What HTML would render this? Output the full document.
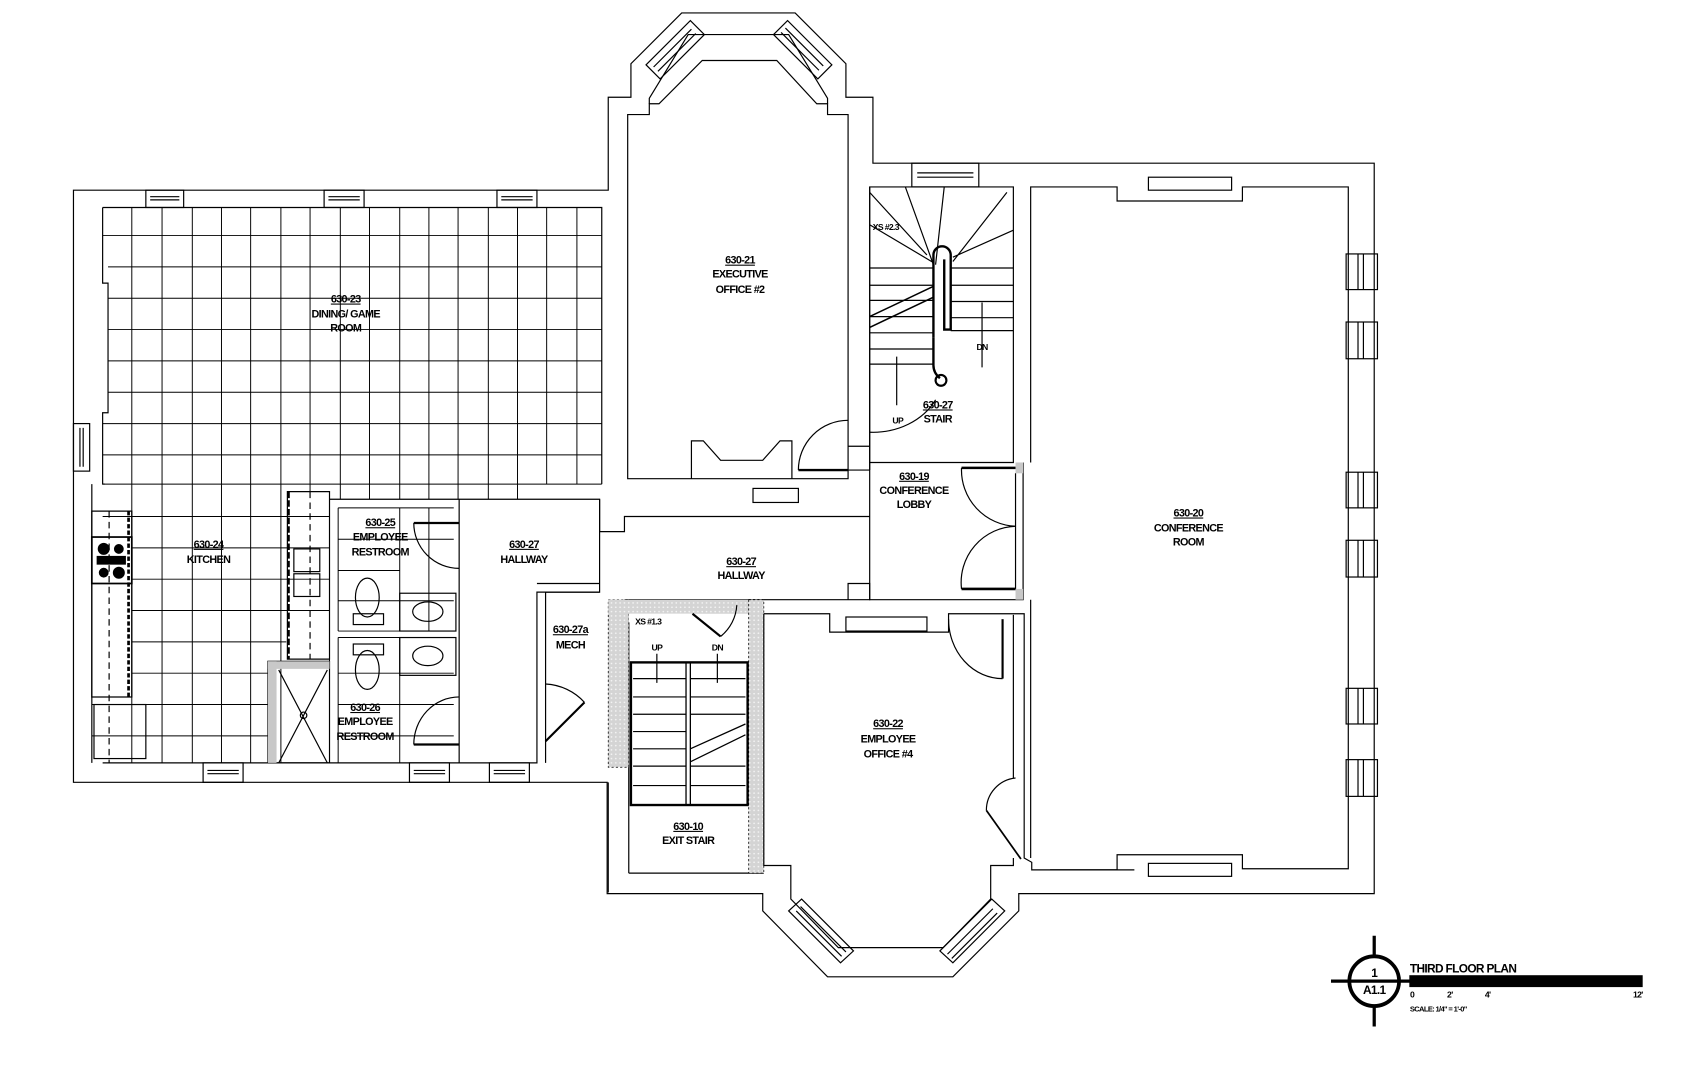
<!DOCTYPE html>
<html><head><meta charset="utf-8"><style>
html,body{margin:0;padding:0;background:#fff;}
svg{display:block;}
text{font-family:"Liberation Sans",sans-serif;font-weight:bold;font-size:10px;text-anchor:middle;fill:#000;letter-spacing:-0.6px;}
</style></head><body>
<svg width="1694" height="1073" viewBox="0 0 1568 993" preserveAspectRatio="none" xmlns="http://www.w3.org/2000/svg">
<defs>
<pattern id="hatch" width="4" height="4" patternUnits="userSpaceOnUse"><rect width="4" height="4" fill="#d4d4d4"/><circle cx="2" cy="2" r="0.8" fill="#f4f4f4"/></pattern>
</defs>
<g fill="none" stroke="#000" stroke-width="1.1">
<!-- Outer wall -->
<path d="M68,176 H563 V90 H584 V59 L631,12 H736 L783,59 V90 H808 V151 H1272 V827 H943 V843 L882,904 H766 L706,843 V827 H562 V724 H68 Z"/>
<!-- exec office inner -->
<path d="M581,443 V106 H601 V96 H610 L650,56 H719 L756,96 H766 V106 H785 V443 Z"/>
<path d="M601,96 V91 L637,32 H730 L766,91 V96"/>
<!-- exec fireplace -->
<path d="M640,443 V408 H651 L667,426 H706 L722,408 H733 V443"/>
<rect x="697" y="452" width="42" height="13"/>
<!-- Dining inner -->
<path d="M95,192 H557 V448"/>
<path d="M95,192 V262 H100 V382 H95 V448 H97"/>
<!-- grid -->
<g stroke-width="0.9">
<path d="M95,218 H557 M100,247 H557 M100,276 H557 M100,305 H557 M100,334 H557 M100,363 H557 M95,392 H557 M95,421 H557 M95,448 H557 M95,478 H305 M122,507 H305 M122,536 H305 M122,565 H305 M122,594 H265 M122,623 H248 M85,652 H248 M85,681 H248"/>
<path d="M122,192 V706 M150,192 V706 M178,192 V706 M205,192 V706 M232,192 V706 M260,192 V706 M287,192 V455 M315,192 V462 M342,192 V462 M370,192 V462 M397,192 V462 M424,192 V462 M452,192 V462 M479,192 V462 M506,192 V448 M534,192 V448"/>
<path d="M305,462 V706 M313,470 H420 M313,470 V584 M370,470 V584 M397,470 V584 M313,499 H420 M313,528 H370 M313,556 H420 M313,584 H420 M313,590 H420 M313,590 V706 M370,590 V706 M313,623 H420 M313,652 H420 M313,681 H420"/>
</g>
<!-- Left wing inner bottom/ right -->
<path d="M95,706 H497 V548 H555 V462 H305"/>
<path d="M85,706 V448"/>
<path d="M425,462 V706"/>
<!-- Windows left wing top -->
<rect x="135" y="176" width="35" height="16"/><path d="M139,182 H166 M139,185 H166"/>
<rect x="300" y="176" width="37" height="16"/><path d="M304,182 H333 M304,185 H333"/>
<rect x="460" y="176" width="37" height="16"/><path d="M464,182 H493 M464,185 H493"/>
<rect x="68" y="392" width="15" height="44"/><path d="M74,396 V432 M77,396 V432"/>
<rect x="188" y="706" width="37" height="18"/><path d="M192,713 H221 M192,716 H221"/>
<rect x="379" y="706" width="37" height="18"/><path d="M383,713 H412 M383,716 H412"/>
<rect x="453" y="706" width="37" height="18"/><path d="M457,713 H486 M457,716 H486"/>
<!-- kitchen counters -->
<path d="M85,473 H122 V645 H85 Z" stroke-width="1.2"/>
<rect x="85" y="497" width="37" height="43" stroke-width="1.6"/>
<circle cx="96" cy="508" r="5" fill="#000"/><circle cx="110" cy="508" r="4" fill="#000"/><circle cx="96" cy="530" r="4" fill="#000"/><circle cx="110" cy="530" r="5" fill="#000"/>
<rect x="90" y="515" width="26" height="7" fill="#000"/>
<path d="M119,473 V645" stroke-width="2.5" stroke-dasharray="4,2"/>
<path d="M101,473 V706" stroke-dasharray="6,4"/>
<rect x="87" y="652" width="48" height="50"/>
<path d="M266,455 H305 V610 H266 Z"/>
<path d="M267,455 V610" stroke-width="2.5" stroke-dasharray="6,2"/>
<path d="M287,455 V610" stroke-dasharray="6,4"/>
<rect x="272" y="508" width="24" height="21"/><rect x="272" y="531" width="24" height="21"/>
<!-- shower -->
<rect x="248" y="612" width="57" height="94"/>
<rect x="248" y="612" width="8" height="94" fill="#c8c8c8" stroke="none"/>
<rect x="248" y="612" width="57" height="7" fill="#c8c8c8" stroke="none"/>
<path d="M258,620 L303,706 M303,620 L258,706"/>
<circle cx="281" cy="662" r="3"/>
<!-- restroom fixtures -->
<ellipse cx="340" cy="553" rx="11" ry="18"/><rect x="327" y="568" width="28" height="10"/>
<ellipse cx="340" cy="620" rx="11" ry="18"/><rect x="327" y="596" width="28" height="10"/>
<rect x="370" y="549" width="52" height="35"/><ellipse cx="396" cy="566" rx="14" ry="9"/>
<rect x="370" y="590" width="52" height="35"/><ellipse cx="396" cy="607" rx="14" ry="9"/>
<path d="M383,484 H425" stroke-width="2"/><path d="M383,484 A42,42 0 0 0 425,526"/>
<path d="M383,689 H425" stroke-width="2"/><path d="M383,689 A42,44 0 0 1 425,645"/>
<!-- hallway walls -->
<path d="M555,462 V492 H578 V478 H805"/>
<path d="M505,548 H555 M505,548 V706 M497,540 H555"/>
<path d="M578,555 H805 V540 H785 V555"/>
<!-- mech door -->
<path d="M505,686 L541,650" stroke-width="2"/><path d="M505,633 A52,52 0 0 1 541,650"/>
<!-- exit stair -->
<path d="M563,724 V826 M582,808 H707 M582,568 V808"/>
<rect x="563" y="555" width="19" height="155" fill="url(#hatch)" stroke-dasharray="2,2" stroke-width="0.7"/>
<rect x="563" y="555" width="144" height="13" fill="url(#hatch)" stroke="none"/>
<rect x="693" y="555" width="14" height="253" fill="url(#hatch)" stroke-dasharray="2,2" stroke-width="0.7"/>
<rect x="582" y="568" width="58" height="8" fill="#fff" stroke="none"/>
<path d="M641,568 L667,589" stroke-width="2"/><path d="M667,589 A40,40 0 0 0 682,560"/>
<rect x="584" y="613" width="108" height="132" stroke-width="2.2"/>
<path d="M635,613 V745 M639,613 V745" stroke-width="1.2"/>
<path d="M586,628 H635 M586,645 H635 M586,661 H635 M586,677 H635 M586,693 H635 M586,709 H635 M586,727 H635 M639,628 H690 M639,645 H690 M639,661 H690 M639,677 H639 M639,709 H690 M639,727 H690"/>
<path d="M639,693 L690,670 M639,705 L690,680" stroke-width="1.2"/>
<path d="M608,605 V632 M664,605 V632"/>
<!-- employee office 630-22 -->
<path d="M707,568 H768 V585 H878 V568 H948 V794 L955,798 V805 L972,805 H1050"/>
<path d="M707,568 V801 H732 V832 L776,877 H873 L917,832 V801 H938 V794"/>
<rect x="783" y="571" width="75" height="13"/>
<path d="M928,573 V628" stroke-width="2"/><path d="M878,573 A50,55 0 0 0 928,628"/>
<path d="M913,750 L945,795" stroke-width="1.6"/><path d="M913,750 A30,30 0 0 1 940,720"/>
<path d="M938,569 V720"/>
<!-- bottom bay windows -->
<path d="M730,843 L778,891 L790,880 L742,832 Z"/><path d="M737,843 L779,885 M741,839 L783,881"/>
<path d="M870,880 L882,891 L930,843 L918,832 Z"/><path d="M877,883 L919,841 M881,887 L923,845"/>
<!-- top bay windows -->
<path d="M598,60 L639,19 L652,32 L611,73 Z"/><path d="M605,62 L640,27 M609,66 L644,31"/>
<path d="M716,32 L729,19 L770,60 L757,73 Z"/><path d="M723,30 L758,65 M727,26 L762,61"/>
<!-- Stair 630-27 -->
<rect x="844" y="151" width="62" height="22"/><path d="M849,160 H901 M849,164 H901"/>
<path d="M805,173 H938 V428 H805 Z"/>
<path d="M805,428 V555 H947 V428"/>
<path d="M805,173 V435" />
<path d="M805,178 L858,236 M838,173 L864,245 M874,173 L866,245 M932,178 L882,242 M938,213 L882,238 M805,208 L864,243"/>
<path d="M864,312 V236 A8,8 0 0 1 880,236 V305 H874 V240" stroke-width="2.2"/>
<path d="M864,312 V338 Q864,345 870,350" stroke-width="2.2"/>
<circle cx="871" cy="352" r="5" stroke-width="2"/>
<path d="M805,248 H864 M805,264 H864 M805,278 H864 M805,293 H864 M805,308 H864 M805,323 H864 M805,337 H864 M880,248 H938 M880,264 H938 M880,279 H938 M880,294 H938 M880,306 H938"/>
<path d="M805,293 L864,265 M805,303 L864,275" stroke-width="1.4"/>
<path d="M805,400 A65,55 0 0 0 866,370"/>
<path d="M830,330 V375 M909,305 V340 M909,305 V280"/>
<path d="M739,435 H785" stroke-width="2.2"/><path d="M739,435 A46,46 0 0 1 785,389"/>
<path d="M785,413 H805 M785,435 H805"/>
<!-- conference lobby -->
<path d="M890,433 H940 M890,545 H940" stroke-width="2.4"/>
<path d="M890,433 A52,52 0 0 0 940,487 A52,52 0 0 0 890,545"/>
<rect x="940" y="428" width="7" height="10" fill="#c8c8c8" stroke="none"/>
<rect x="940" y="545" width="7" height="10" fill="#c8c8c8" stroke="none"/>
<path d="M940,438 V545"/>
<!-- conference room -->
<path d="M954,428 V173 H1034 V186 H1150 V173 H1248 V804 H1150 V791 H1034 V805 H972"/>
<path d="M954,555 V794"/>
<rect x="1063" y="164" width="77" height="12"/>
<rect x="1063" y="799" width="77" height="12"/>
<g>
<rect x="1246" y="235" width="29" height="33"/><path d="M1257,235 V268 M1262,235 V268"/>
<rect x="1246" y="298" width="29" height="34"/><path d="M1257,298 V332 M1262,298 V332"/>
<rect x="1246" y="437" width="29" height="33"/><path d="M1257,437 V470 M1262,437 V470"/>
<rect x="1246" y="500" width="29" height="34"/><path d="M1257,500 V534 M1262,500 V534"/>
<rect x="1246" y="637" width="29" height="33"/><path d="M1257,637 V670 M1262,637 V670"/>
<rect x="1246" y="703" width="29" height="34"/><path d="M1257,703 V737 M1262,703 V737"/>
</g>
</g>
<!-- Labels -->
<g>
<text x="320" y="280" text-decoration="underline">630-23</text><text x="320" y="294">DINING/ GAME</text><text x="320" y="307">ROOM</text>
<text x="685" y="244" text-decoration="underline">630-21</text><text x="685" y="257">EXECUTIVE</text><text x="685" y="271">OFFICE #2</text>
<text x="193" y="507" text-decoration="underline">630-24</text><text x="193" y="521">KITCHEN</text>
<text x="352" y="487" text-decoration="underline">630-25</text><text x="352" y="500">EMPLOYEE</text><text x="352" y="514">RESTROOM</text>
<text x="485" y="507" text-decoration="underline">630-27</text><text x="485" y="521">HALLWAY</text>
<text x="686" y="523" text-decoration="underline">630-27</text><text x="686" y="536">HALLWAY</text>
<text x="528" y="586" text-decoration="underline">630-27a</text><text x="528" y="600">MECH</text>
<text x="338" y="658" text-decoration="underline">630-26</text><text x="338" y="671">EMPLOYEE</text><text x="338" y="685">RESTROOM</text>
<text x="637" y="768" text-decoration="underline">630-10</text><text x="637" y="781">EXIT STAIR</text>
<text x="822" y="673" text-decoration="underline">630-22</text><text x="822" y="687">EMPLOYEE</text><text x="822" y="701">OFFICE #4</text>
<text x="846" y="444" text-decoration="underline">630-19</text><text x="846" y="457">CONFERENCE</text><text x="846" y="470">LOBBY</text>
<text x="1100" y="478" text-decoration="underline">630-20</text><text x="1100" y="492">CONFERENCE</text><text x="1100" y="505">ROOM</text>
<text x="868" y="378" text-decoration="underline">630-27</text><text x="868" y="391">STAIR</text>
<text x="831" y="392" style="font-size:8px">UP</text><text x="909" y="324" style="font-size:8px">DN</text>
<text x="820" y="213" style="font-size:8px">XS #2.3</text>
<text x="600" y="578" style="font-size:8px">XS #1.3</text>
<text x="608" y="602" style="font-size:8px">UP</text><text x="664" y="602" style="font-size:8px">DN</text>
</g>
<!-- title block -->
<g stroke="#000" fill="none">
<path d="M1232,908 H1305 M1272,866 V950" stroke-width="3"/>
<circle cx="1272" cy="908" r="23" stroke-width="3.5" fill="#fff"/>
<path d="M1249,908 H1295" stroke-width="3"/>
<rect x="1305" y="903" width="215" height="10" fill="#000"/>
</g>
<text x="1272" y="904" style="font-size:11px">1</text>
<text x="1272" y="920" style="font-size:11px">A1.1</text>
<text x="1305" y="900" style="text-anchor:start;font-size:11px">THIRD FLOOR PLAN</text>
<text x="1307" y="923" style="font-size:8px">0</text><text x="1342" y="923" style="font-size:8px">2'</text><text x="1377" y="923" style="font-size:8px">4'</text><text x="1516" y="923" style="font-size:8px">12'</text>
<text x="1305" y="936" style="text-anchor:start;font-size:7px">SCALE: 1/4" = 1'-0"</text>
</svg>
</body></html>
